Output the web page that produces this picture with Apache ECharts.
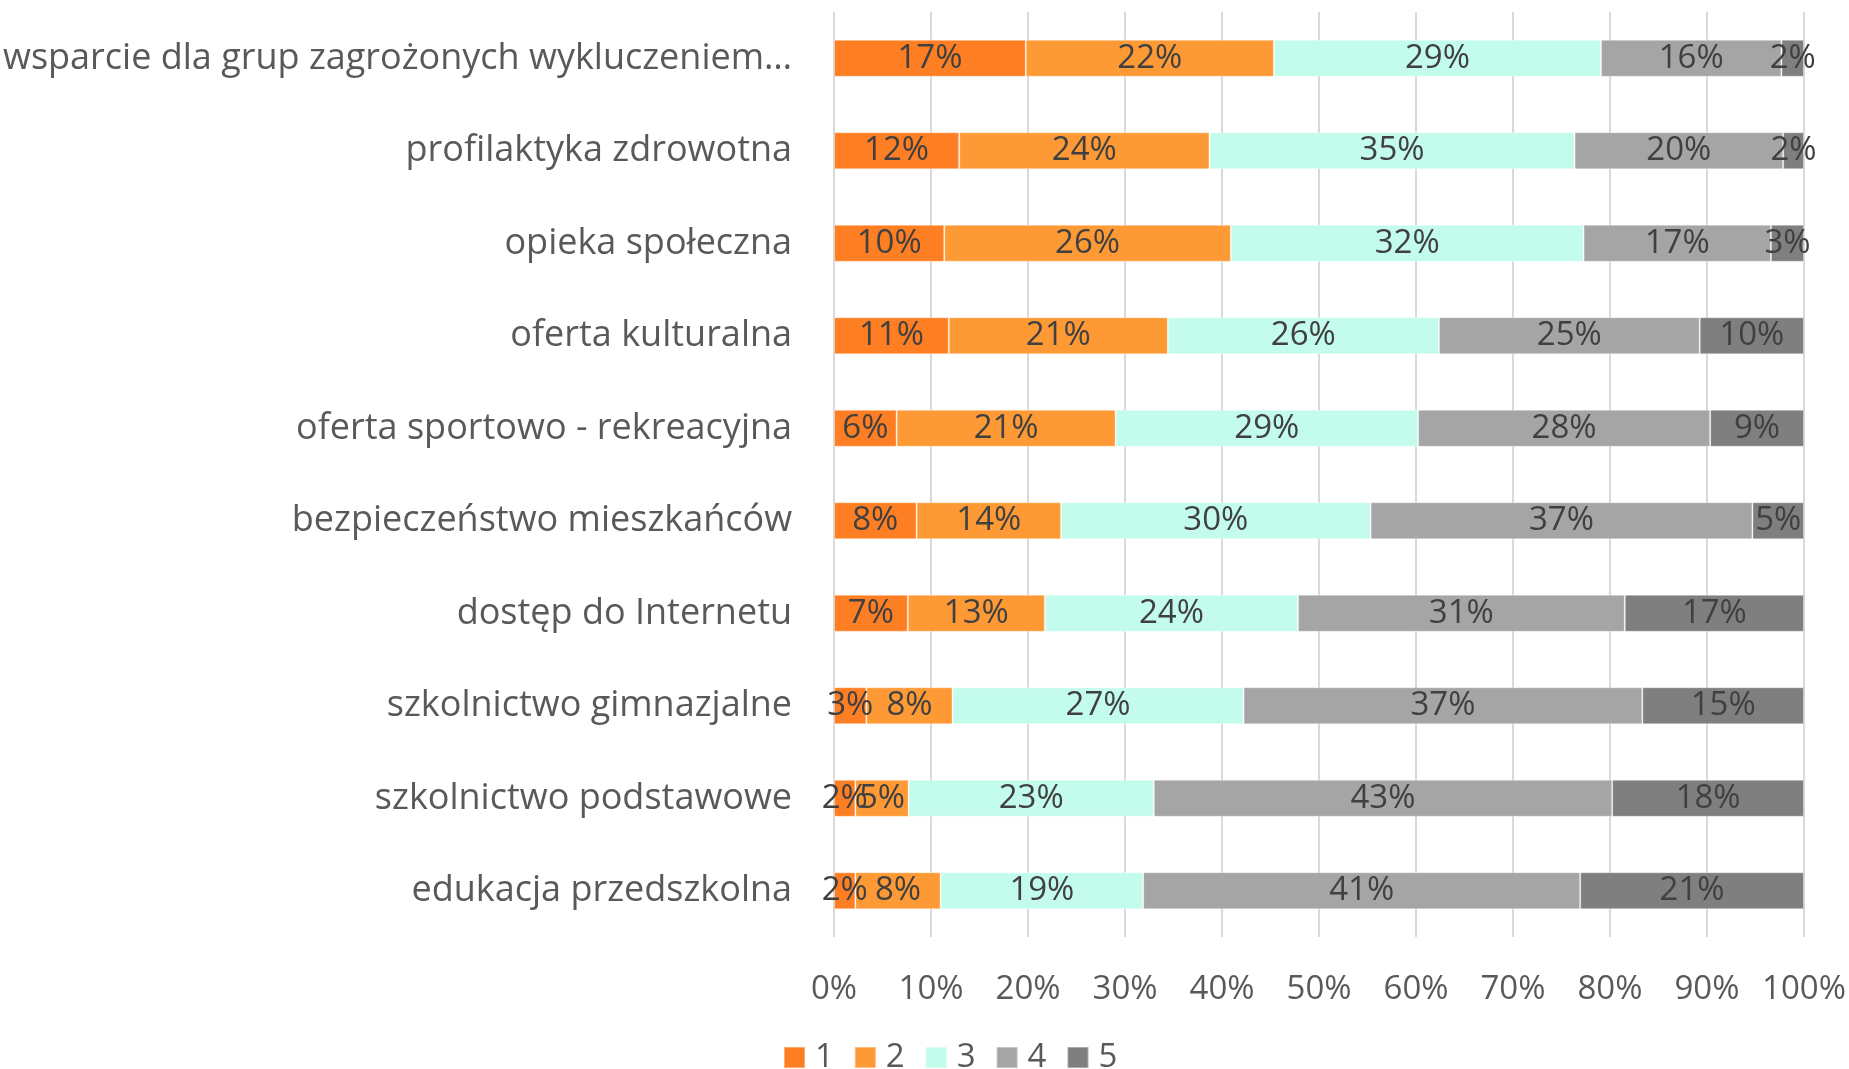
<!DOCTYPE html>
<html>
<head>
<meta charset="utf-8">
<script src="https://cdn.jsdelivr.net/npm/echarts@6/dist/echarts.min.js"></script>
<style>
html,body{margin:0;padding:0;background:#fff;}
#chart{width:1849px;height:1069px;}
</style>
</head>
<body>
<div id="chart"></div>
<script>
// categories, top to bottom
const categories = [
    'wsparcie dla grup zagrożonych wykluczeniem…',
    'profilaktyka zdrowotna',
    'opieka społeczna',
    'oferta kulturalna',
    'oferta sportowo - rekreacyjna',
    'bezpieczeństwo mieszkańców',
    'dostęp do Internetu',
    'szkolnictwo gimnazjalne',
    'szkolnictwo podstawowe',
    'edukacja przedszkolna'
];
const seriesNames = ['1', '2', '3', '4', '5'];
// share of answers (labels in %), bars are drawn as 100% stacked
const s1 = [17, 12, 10, 11, 6, 8, 7, 3, 2, 2];
const s2 = [22, 24, 26, 21, 21, 14, 13, 8, 5, 8];
const s3 = [29, 35, 32, 26, 29, 30, 24, 27, 23, 19];
const s4 = [16, 20, 17, 25, 28, 37, 31, 37, 43, 41];
const s5 = [2, 2, 3, 10, 9, 5, 17, 15, 18, 21];
const xTicks = [0, 10, 20, 30, 40, 50, 60, 70, 80, 90, 100];

const colors = ['#FE7E23', '#FE9A36', '#C3FCEC', '#A5A5A5', '#7F7F7F'];
const font = '"Open Sans", "Noto Sans", sans-serif';

const raw = [s1, s2, s3, s4, s5];
const totals = categories.map((c, i) => raw.reduce((a, s) => a + s[i], 0));

const chart = echarts.init(document.getElementById('chart'));

const series = raw.map((vals, k) => ({
    name: seriesNames[k],
    type: 'bar',
    stack: 'total',
    barWidth: 37,
    itemStyle: {color: colors[k], borderColor: 'rgba(255,255,255,0.35)', borderWidth: 1},
    label: {
        show: true,
        position: 'inside',
        fontFamily: font,
        fontSize: 33,
        color: '#404040',
        formatter: p => vals[p.dataIndex] + '%'
    },
    emphasis: {disabled: true},
    data: vals.map((v, i) => v / totals[i] * 100)
}));

chart.setOption({
    animation: false,
    color: colors,
    textStyle: {fontFamily: font},
    grid: {left: 833, right: 45, top: 12, bottom: 132, containLabel: false},
    legend: {
        data: seriesNames,
        left: 778,
        top: 1036,
        itemWidth: 21,
        itemHeight: 21,
        itemGap: 20,
        icon: 'rect',
        textStyle: {fontFamily: font, fontSize: 33, color: '#595959', padding: [0, 0, 0, 5]}
    },
    xAxis: {
        type: 'value',
        min: xTicks[0],
        max: xTicks[xTicks.length - 1],
        interval: 10,
        axisLine: {show: false},
        axisTick: {show: false},
        splitLine: {lineStyle: {color: '#d9d9d9', width: 2}},
        axisLabel: {
            fontFamily: font,
            fontSize: 33,
            color: '#595959',
            margin: 36,
            formatter: '{value}%'
        }
    },
    yAxis: {
        type: 'category',
        inverse: true,
        data: categories,
        axisLine: {show: false},
        axisTick: {show: false},
        axisLabel: {
            fontFamily: font,
            fontSize: 36,
            color: '#595959',
            margin: 42
        }
    },
    series: series
});
</script>
</body>
</html>
